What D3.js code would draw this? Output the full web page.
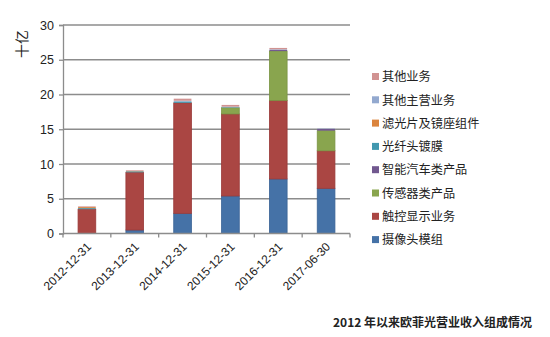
<!DOCTYPE html>
<html>
<head>
<meta charset="utf-8">
<script src="https://cdn.jsdelivr.net/npm/d3@7"></script>
<style>
  html, body { margin: 0; padding: 0; background: #fff; }
  svg { display: block; }
</style>
</head>
<body>
<svg id="chart" width="550" height="337"></svg>
<script>
// Period labels (x categories)
const categories = ["2012-12-31", "2013-12-31", "2014-12-31", "2015-12-31", "2016-12-31", "2017-06-30"];

// Revenue by segment, 十亿 (stacked bottom to top)
const camera      = [0,    0.5,  2.9,  5.4,  7.85, 6.5];   // 摄像头模组
const touch       = [3.5,  8.3,  15.9, 11.8, 11.3, 5.4];   // 触控显示业务
const sensor      = [0,    0,    0,    0.9,  7.1,  2.9];   // 传感器类产品
const auto        = [0,    0,    0,    0,    0.15, 0.25];  // 智能汽车类产品
const fiber       = [0.15, 0.15, 0.2,  0.05, 0,    0];     // 光纤头镀膜
const filter      = [0.15, 0.05, 0,    0,    0,    0];     // 滤光片及镜座组件
const otherMain   = [0,    0,    0.1,  0.1,  0.1,  0.05];  // 其他主营业务
const otherBiz    = [0.1,  0.1,  0.3,  0.25, 0.2,  0];     // 其他业务

const seriesNames = ["摄像头模组", "触控显示业务", "传感器类产品", "智能汽车类产品", "光纤头镀膜", "滤光片及镜座组件", "其他主营业务", "其他业务"];
const seriesValues = [camera, touch, sensor, auto, fiber, filter, otherMain, otherBiz];
const seriesColors = ["#4572A7", "#AA4643", "#89A54E", "#71588F", "#4198AF", "#DB843D", "#93A9CF", "#D19392"];
const seriesStroke = ["#3B6496", "#9A3A38", "#7A9444", "#634d80", "#3a889d", "#c57434", "#8397bb", "#bf8382"];

const yTicks = [0, 5, 10, 15, 20, 25, 30];
const yTitle = "十亿";
const chartTitle = "2012 年以来欧菲光营业收入组成情况";

// Build rows for the stack layout
const keys = seriesNames;
const rows = categories.map((c, i) => {
  const r = { cat: c };
  keys.forEach((k, j) => r[k] = seriesValues[j][i]);
  return r;
});
const stacked = d3.stack().keys(keys)(rows);

const svg = d3.select("#chart");
const margin = { left: 63, right: 200, top: 25, bottom: 103.5 };
const W = 550, H = 337;
const x0 = margin.left, x1 = W - margin.right;
const y0 = H - margin.bottom, y1 = margin.top;

const x = d3.scaleBand().domain(categories).range([x0, x1]).paddingInner(0.63).paddingOuter(0.315);
const y = d3.scaleLinear().domain([0, 30]).range([y0, y1]);

const numFont = "'Liberation Sans', Arial, sans-serif";
const cjkFont = "'Noto Sans CJK SC', sans-serif";

// Horizontal gridlines
svg.append("g").selectAll("line").data(yTicks.filter(t => t > 0)).join("line")
  .attr("x1", x0).attr("x2", x1)
  .attr("y1", d => y(d)).attr("y2", d => y(d))
  .attr("stroke", "#8c8c8c").attr("stroke-width", 1.3);

// Stacked bars
const layer = svg.append("g").selectAll("g").data(stacked).join("g")
  .attr("fill", (d, i) => seriesColors[i])
  .attr("stroke", (d, i) => seriesStroke[i]);
layer.selectAll("rect").data(d => d.filter(p => p[1] - p[0] > 0)).join("rect")
  .attr("x", d => x(d.data.cat))
  .attr("width", x.bandwidth())
  .attr("y", d => y(d[1]))
  .attr("height", d => y(d[0]) - y(d[1]))
  .attr("stroke-width", d => (y(d[0]) - y(d[1])) > 3 ? 0.8 : 0);

// Y axis
const yAxis = svg.append("g").attr("transform", `translate(${x0},0)`)
  .call(d3.axisLeft(y).tickValues(yTicks).tickSize(4).tickPadding(5).tickFormat(d3.format("d")));
yAxis.select(".domain").attr("stroke", "#8c8c8c").attr("stroke-width", 1.3);
yAxis.selectAll(".tick line").attr("stroke", "#8c8c8c").attr("stroke-width", 1.3);
yAxis.selectAll("text").attr("font-family", numFont).attr("font-size", 12.5).attr("fill", "#222");

// X axis with ticks at category boundaries
const boundaries = d3.range(categories.length + 1).map(i => x0 + i * (x1 - x0) / categories.length);
svg.append("line").attr("x1", x0).attr("x2", x1).attr("y1", y0).attr("y2", y0)
  .attr("stroke", "#8c8c8c").attr("stroke-width", 1.3);
svg.append("g").selectAll("line").data(boundaries).join("line")
  .attr("x1", d => d).attr("x2", d => d).attr("y1", y0).attr("y2", y0 + 4)
  .attr("stroke", "#8c8c8c").attr("stroke-width", 1.3);

// Rotated category labels
svg.append("g").selectAll("text").data(categories).join("text")
  .attr("transform", d => `translate(${x(d) + x.bandwidth() / 2 + 5},${y0 + 14}) rotate(-45)`)
  .attr("text-anchor", "end")
  .attr("font-family", numFont).attr("font-size", 12).attr("fill", "#222")
  .text(d => d);

// Y axis title
svg.append("text")
  .attr("transform", `translate(27,44) rotate(-90)`)
  .attr("text-anchor", "middle")
  .attr("font-family", cjkFont).attr("font-size", 14).attr("fill", "#222")
  .text(yTitle);

// Legend (top to bottom: reverse stack order)
const legendItems = seriesNames.map((n, i) => ({ name: n, color: seriesColors[i] })).reverse();
const lg = svg.append("g").selectAll("g").data(legendItems).join("g")
  .attr("transform", (d, i) => `translate(372,${77 + i * 23.3})`);
lg.append("rect").attr("x", 0).attr("y", -4).attr("width", 7).attr("height", 7).attr("fill", d => d.color);
lg.append("text").attr("x", 10).attr("y", 0).attr("dy", "0.35em")
  .attr("font-family", cjkFont).attr("font-size", 12.2).attr("fill", "#222")
  .text(d => d.name);

// Caption
svg.append("text")
  .attr("x", 333).attr("y", 327)
  .attr("font-family", cjkFont).attr("font-size", 12).attr("font-weight", "bold").attr("fill", "#222")
  .text(chartTitle);
</script>
</body>
</html>
